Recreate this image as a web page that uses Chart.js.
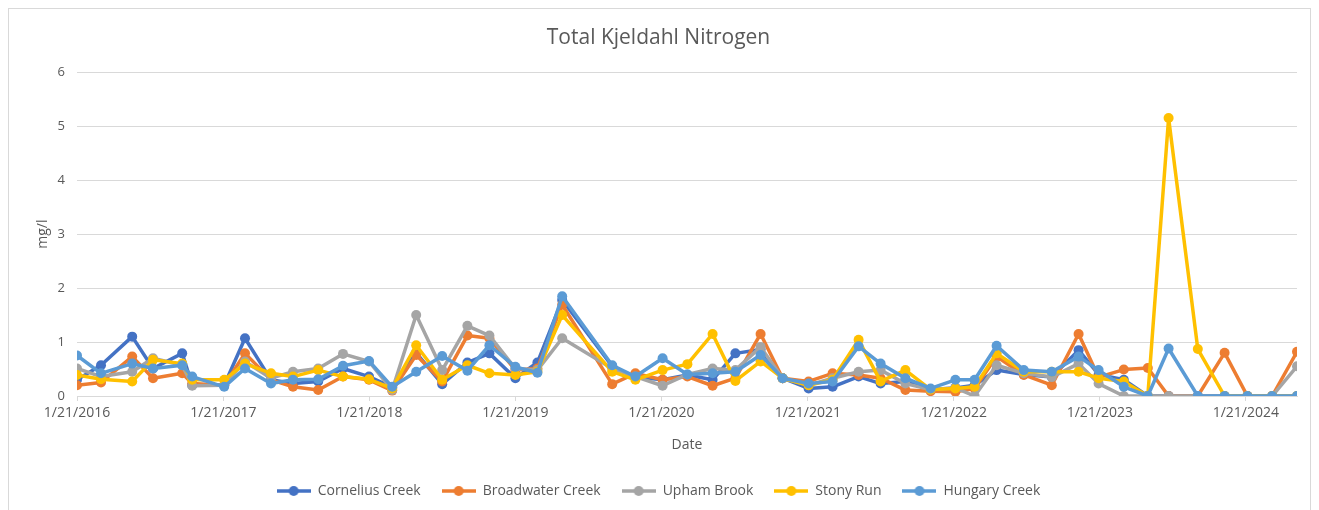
<!DOCTYPE html>
<html>
<head>
<meta charset="utf-8">
<script src="https://cdn.jsdelivr.net/npm/chart.js@4.4.1/dist/chart.umd.min.js"></script>
<style>
  html, body { margin: 0; padding: 0; background: #fff; }
  #wrap { position: relative; width: 1319px; height: 510px; }
  #frame { position: absolute; left: 8px; top: 8px; width: 1303px; height: 520px; border: 1px solid #d9d9d9; box-sizing: border-box; }
  canvas { position: absolute; left: 0; top: 0; }
</style>
</head>
<body>
<div id="wrap">
  <div id="frame"></div>
  <canvas id="chart" width="1319" height="510"></canvas>
</div>
<script>
// sample dates (yyyy-mm-dd)
const sampleDates = [
  "2016-01-21", "2016-03-21", "2016-06-07", "2016-07-29", "2016-10-10", "2016-11-04",
  "2017-01-23", "2017-03-16", "2017-05-20", "2017-07-14", "2017-09-15", "2017-11-16",
  "2018-01-20", "2018-03-19", "2018-05-18", "2018-07-22", "2018-09-23", "2018-11-17",
  "2019-01-21", "2019-03-17", "2019-05-18", "2019-09-20", "2019-11-17",
  "2020-01-24", "2020-03-26", "2020-05-28", "2020-07-24", "2020-09-25", "2020-11-19",
  "2021-01-23", "2021-03-24", "2021-05-28", "2021-07-22", "2021-09-22", "2021-11-24",
  "2022-01-25", "2022-03-14", "2022-05-08", "2022-07-15", "2022-09-23", "2022-11-29",
  "2023-01-18", "2023-03-22", "2023-05-21", "2023-07-12", "2023-09-23", "2023-11-29",
  "2024-01-25", "2024-03-27", "2024-05-28"
];

const cornelius = [
  0.30, 0.57, 1.10, 0.51, 0.79, 0.20,
  0.20, 1.07, 0.30, 0.23, 0.27, 0.51,
  0.36, 0.16, 0.80, 0.22, 0.62, 0.79,
  0.33, 0.62, 1.78, 0.55, 0.35,
  0.30, 0.39, 0.30, 0.79, 0.86, 0.33,
  0.14, 0.17, 0.36, 0.23, 0.27, 0.12,
  0.15, 0.20, 0.48, 0.40, 0.35, 0.85,
  0.40, 0.30, 0.00, 0.00, 0.00, 0.00,
  0.00, 0.00, 0.00
];
const broadwater = [
  0.20, 0.25, 0.73, 0.33, 0.42, 0.23,
  0.20, 0.79, 0.30, 0.17, 0.11, 0.36,
  0.30, 0.10, 0.76, 0.27, 1.12, 1.07,
  0.48, 0.51, 1.69, 0.22, 0.42,
  0.30, 0.36, 0.19, 0.33, 1.15, 0.33,
  0.27, 0.42, 0.39, 0.33, 0.11, 0.09,
  0.08, 0.14, 0.73, 0.39, 0.20, 1.15,
  0.35, 0.49, 0.52, 0.00, 0.00, 0.80,
  0.00, 0.00, 0.82
];
const upham = [
  0.51, 0.36, 0.45, 0.70, 0.57, 0.19,
  0.20, 0.64, 0.33, 0.45, 0.51, 0.78,
  0.64, 0.11, 1.50, 0.48, 1.30, 1.12,
  0.51, 0.48, 1.07, 0.51, 0.36,
  0.19, 0.40, 0.51, 0.48, 0.91, 0.33,
  0.20, 0.33, 0.45, 0.48, 0.23, 0.12,
  0.15, 0.00, 0.57, 0.42, 0.35, 0.60,
  0.23, 0.00, 0.00, 0.00, 0.00, 0.00,
  0.00, 0.00, 0.55
];
const stonyRun = [
  0.39, 0.31, 0.27, 0.67, 0.60, 0.30,
  0.30, 0.60, 0.42, 0.36, 0.48, 0.36,
  0.31, 0.14, 0.94, 0.30, 0.57, 0.42,
  0.39, 0.45, 1.50, 0.45, 0.30,
  0.48, 0.59, 1.15, 0.28, 0.64, 0.33,
  0.20, 0.30, 1.04, 0.27, 0.48, 0.12,
  0.14, 0.17, 0.79, 0.45, 0.45, 0.45,
  0.33, 0.27, 0.00, 5.15, 0.87, 0.00,
  0.00, 0.00, 0.00
];
const hungary = [
  0.75, 0.42, 0.60, 0.51, 0.57, 0.36,
  0.17, 0.51, 0.23, 0.30, 0.31, 0.56,
  0.65, 0.17, 0.45, 0.74, 0.47, 0.94,
  0.54, 0.43, 1.85, 0.57, 0.36,
  0.70, 0.40, 0.42, 0.45, 0.76, 0.33,
  0.23, 0.27, 0.92, 0.60, 0.33, 0.14,
  0.30, 0.30, 0.93, 0.48, 0.45, 0.73,
  0.48, 0.17, 0.00, 0.88, 0.00, 0.00,
  0.00, 0.00, 0.00
];

const seriesNames = ["Cornelius Creek", "Broadwater Creek", "Upham Brook", "Stony Run", "Hungary Creek"];
const seriesValues = [cornelius, broadwater, upham, stonyRun, hungary];
const seriesColors = ["#4472C4", "#ED7D31", "#A5A5A5", "#FFC000", "#5B9BD5"];
const tickYears = [2016, 2017, 2018, 2019, 2020, 2021, 2022, 2023, 2024];

const toTime = s => Date.parse(s + "T00:00:00Z");

// legend icon: line with a dot, like Excel
function legendIcon(color) {
  const c = document.createElement("canvas");
  c.width = 34; c.height = 12;
  const g = c.getContext("2d");
  g.strokeStyle = color; g.lineWidth = 3.5;
  g.beginPath(); g.moveTo(0, 6); g.lineTo(34, 6); g.stroke();
  g.fillStyle = color;
  g.beginPath(); g.arc(17, 6, 5, 0, Math.PI * 2); g.fill();
  return c;
}

const datasets = seriesNames.map((name, i) => ({
  label: name,
  data: sampleDates.map((d, j) => ({ x: toTime(d), y: seriesValues[i][j] })),
  borderColor: seriesColors[i],
  backgroundColor: seriesColors[i],
  borderWidth: 3.5,
  borderJoinStyle: "round",
  borderCapStyle: "round",
  pointRadius: 5,
  pointHoverRadius: 5,
  pointBorderWidth: 0,
  tension: 0,
  order: seriesNames.length - i, // later series on top, as in Excel
}));

const grey = "#595959";
const font = "'Open Sans', sans-serif";

new Chart(document.getElementById("chart"), {
  type: "line",
  data: { datasets },
  options: {
    responsive: false,
    animation: false,
    layout: { padding: { left: 20, right: 22, top: 0, bottom: 2 } },
    plugins: {
      title: {
        display: true,
        text: "Total Kjeldahl Nitrogen",
        color: grey,
        font: { family: font, size: 21, weight: "normal" },
        padding: { top: 25, bottom: 22 },
      },
      legend: {
        position: "bottom",
        labels: {
          color: grey,
          font: { family: font, size: 14 },
          usePointStyle: true,
          pointStyleWidth: 34,
          padding: 21,
          sort: (a, b) => a.datasetIndex - b.datasetIndex,
          generateLabels: chart => chart.data.datasets.map((ds, i) => ({
            text: ds.label,
            fillStyle: ds.borderColor,
            strokeStyle: ds.borderColor,
            fontColor: grey,
            pointStyle: legendIcon(ds.borderColor),
            datasetIndex: i,
            hidden: !chart.isDatasetVisible(i),
          })),
        },
      },
      tooltip: { enabled: false },
    },
    scales: {
      x: {
        type: "linear",
        min: toTime(sampleDates[0]),
        max: toTime(sampleDates[sampleDates.length - 1]),
        afterBuildTicks: scale => {
          scale.ticks = tickYears.map(y => ({ value: Date.UTC(y, 0, 21) }));
        },
        afterFit: scale => { scale.height = 67; },
        ticks: {
          color: grey,
          font: { family: font, size: 14 },
          maxRotation: 0,
          autoSkip: false,
          padding: 4,
          callback: v => "1/21/" + new Date(v).getUTCFullYear(),
        },
        grid: { drawOnChartArea: false, color: "#d9d9d9", tickLength: 5 },
        border: { color: "#d9d9d9", width: 1 },
        title: {
          display: true,
          text: "Date",
          color: grey,
          font: { family: font, size: 14 },
          padding: { top: 0, bottom: 10 },
        },
      },
      y: {
        min: 0,
        max: 6,
        afterFit: scale => { scale.width = 57; },
        ticks: {
          stepSize: 1,
          color: grey,
          font: { family: font, size: 13 },
          padding: 12,
        },
        grid: { color: "#d9d9d9", drawTicks: false },
        border: { display: false },
        title: {
          display: true,
          text: "mg/l",
          color: grey,
          font: { family: font, size: 14 },
          padding: { top: 15, bottom: 0 },
        },
      },
    },
  },
});
</script>
</body>
</html>
